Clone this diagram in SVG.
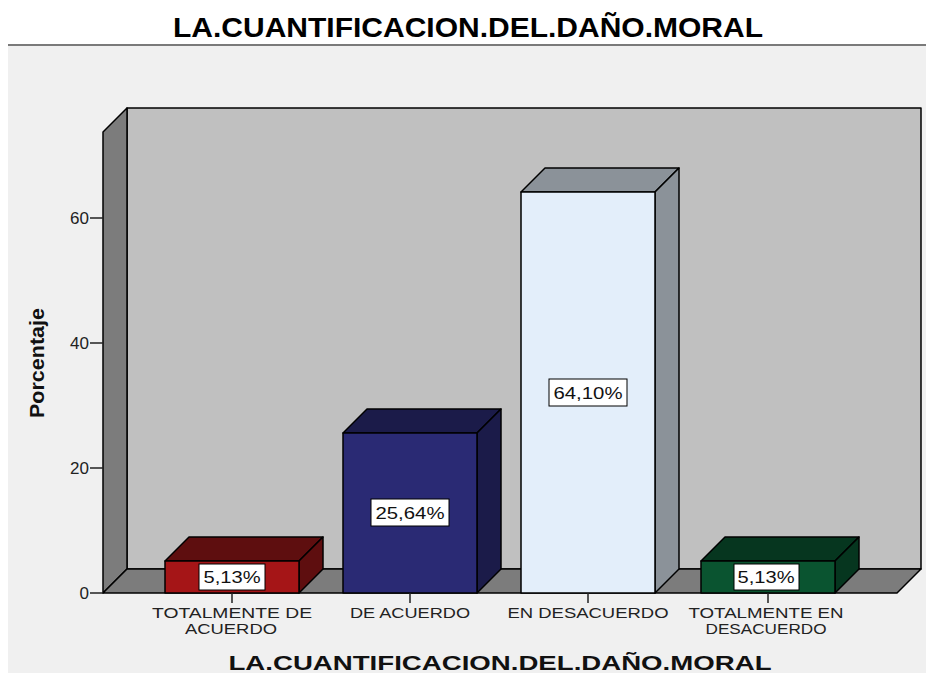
<svg xmlns="http://www.w3.org/2000/svg" width="926" height="674" viewBox="0 0 926 674">
<style>
.edge{stroke:#000;stroke-width:1.5;stroke-linejoin:round}
.wall{fill:#c0c0c0}
.side{fill:#7c7c7c}
.lbl{fill:#fff;stroke:#000;stroke-width:1}
.val{font-family:"Liberation Sans",Arial,sans-serif;font-size:17px;fill:#111;text-anchor:middle}
.cat{font-family:"Liberation Sans",Arial,sans-serif;font-size:15px;fill:#222;text-anchor:middle}
.tick{font-family:"Liberation Sans",Arial,sans-serif;font-size:17px;fill:#222;text-anchor:end}
.axl{stroke:#222;stroke-width:1.5}
</style>
<rect x="0" y="0" width="926" height="674" fill="#fff"/>
<rect x="8" y="46" width="918" height="627" fill="#f0f0f0"/>
<line x1="8" y1="45" x2="926" y2="45" stroke="#7a7a7a" stroke-width="2"/>
<text x="468" y="37" font-family="'Liberation Sans',Arial,sans-serif" font-size="27" font-weight="bold" fill="#000" text-anchor="middle" textLength="590" lengthAdjust="spacingAndGlyphs">LA.CUANTIFICACION.DEL.DAÑO.MORAL</text>

<g id="chart-frame">
  <polygon class="wall edge" points="127,108 921,108 921,569 127,569"/>
  <polygon class="side edge" points="103,132 127,108 127,569 103,593"/>
  <polygon class="side edge" points="103,593 127,569 921,569 897,593"/>
</g>

<g id="y-axis">
  <line class="axl" x1="90" y1="593" x2="103" y2="593"/>
  <line class="axl" x1="90" y1="468" x2="103" y2="468"/>
  <line class="axl" x1="90" y1="343" x2="103" y2="343"/>
  <line class="axl" x1="90" y1="218" x2="103" y2="218"/>
  <text class="tick" x="89" y="599">0</text>
  <text class="tick" x="89" y="474">20</text>
  <text class="tick" x="89" y="349">40</text>
  <text class="tick" x="89" y="224">60</text>
  <text x="0" y="0" transform="translate(44,363) rotate(-90)" font-family="'Liberation Sans',Arial,sans-serif" font-size="21" font-weight="bold" fill="#111" text-anchor="middle" textLength="110" lengthAdjust="spacingAndGlyphs">Porcentaje</text>
</g>

<g id="bar-totalmente-de-acuerdo">
  <polygon class="edge" fill="#5e0e0f" points="165,561 189,537 323,537 299,561"/>
  <polygon class="edge" fill="#5e0e0f" points="299,561 323,537 323,569 299,593"/>
  <rect class="edge" fill="#a51517" x="165" y="561" width="134" height="32"/>
  <rect class="lbl" x="199" y="564" width="66" height="26"/>
  <text class="val" x="232" y="583" textLength="57" lengthAdjust="spacingAndGlyphs">5,13%</text>
</g>

<g id="bar-de-acuerdo">
  <polygon class="edge" fill="#1b1b49" points="343,433 367,409 501,409 477,433"/>
  <polygon class="edge" fill="#1b1b49" points="477,433 501,409 501,569 477,593"/>
  <rect class="edge" fill="#2a2a74" x="343" y="433" width="134" height="160"/>
  <rect class="lbl" x="371" y="499" width="78" height="27"/>
  <text class="val" x="410" y="519" textLength="69" lengthAdjust="spacingAndGlyphs">25,64%</text>
</g>

<g id="bar-en-desacuerdo">
  <polygon class="edge" fill="#8b9299" points="521,192 545,168 679,168 655,192"/>
  <polygon class="edge" fill="#8b9299" points="655,192 679,168 679,569 655,593"/>
  <rect class="edge" fill="#e3eefa" x="521" y="192" width="134" height="401"/>
  <rect class="lbl" x="549" y="379" width="78" height="27"/>
  <text class="val" x="588" y="399" textLength="69" lengthAdjust="spacingAndGlyphs">64,10%</text>
</g>

<g id="bar-totalmente-en-desacuerdo">
  <polygon class="edge" fill="#06361f" points="701,561 725,537 859,537 835,561"/>
  <polygon class="edge" fill="#06361f" points="835,561 859,537 859,569 835,593"/>
  <rect class="edge" fill="#0a5430" x="701" y="561" width="134" height="32"/>
  <rect class="lbl" x="734" y="564" width="65" height="26"/>
  <text class="val" x="766" y="583" textLength="57" lengthAdjust="spacingAndGlyphs">5,13%</text>
</g>

<g id="x-axis">
  <line class="axl" x1="232" y1="593" x2="232" y2="603"/>
  <line class="axl" x1="410" y1="593" x2="410" y2="603"/>
  <line class="axl" x1="588" y1="593" x2="588" y2="603"/>
  <line class="axl" x1="768" y1="593" x2="768" y2="603"/>
  <text class="cat" x="232" y="618" textLength="160" lengthAdjust="spacingAndGlyphs">TOTALMENTE  DE</text>
  <text class="cat" x="231" y="634" textLength="92" lengthAdjust="spacingAndGlyphs">ACUERDO</text>
  <text class="cat" x="410" y="618" textLength="120" lengthAdjust="spacingAndGlyphs">DE ACUERDO</text>
  <text class="cat" x="588" y="618" textLength="161" lengthAdjust="spacingAndGlyphs">EN DESACUERDO</text>
  <text class="cat" x="766" y="618" textLength="155" lengthAdjust="spacingAndGlyphs">TOTALMENTE EN</text>
  <text class="cat" x="766" y="634" textLength="121" lengthAdjust="spacingAndGlyphs">DESACUERDO</text>
  <text x="500" y="670" font-family="'Liberation Sans',Arial,sans-serif" font-size="21" font-weight="bold" fill="#111" text-anchor="middle" textLength="543" lengthAdjust="spacingAndGlyphs">LA.CUANTIFICACION.DEL.DAÑO.MORAL</text>
</g>
</svg>
